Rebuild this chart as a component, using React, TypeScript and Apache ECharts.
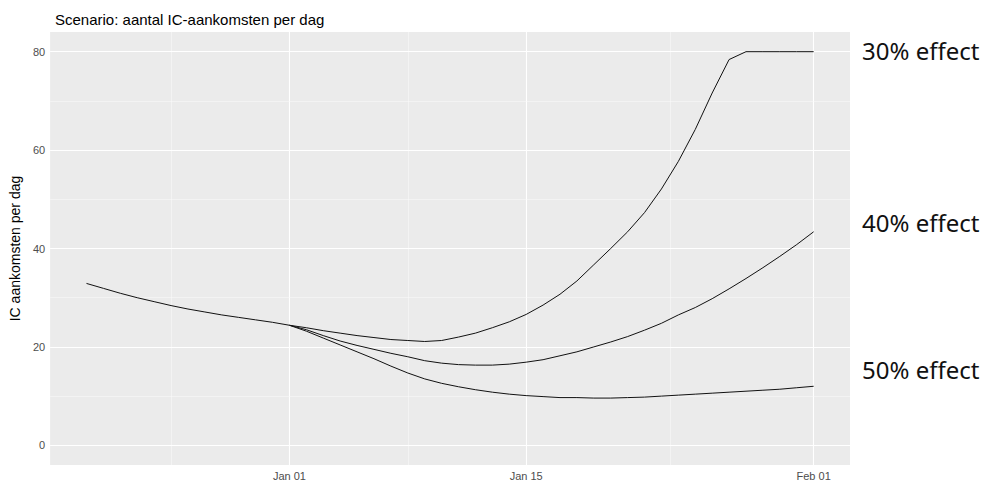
import React, { useEffect, useRef } from "react";
import * as echarts from "echarts";

const chartTitle = "Scenario: aantal IC-aankomsten per dag";
const yAxisName = "IC aankomsten per dag";

// days counted from Jan 01 (0)
const leadInStartDay = -12; // Dec 20
const leadIn = [32.9, 31.9, 30.9, 30.0, 29.2, 28.4, 27.7, 27.1, 26.5, 26.0, 25.5, 25.0, 24.4];
const scenarioStartDay = 0; // Jan 01 .. Feb 01
const effect30 = [24.4, 23.9, 23.3, 22.8, 22.3, 21.9, 21.5, 21.3, 21.1, 21.3, 22.0, 22.8, 23.9, 25.1, 26.6, 28.5, 30.7, 33.4, 36.7, 40.0, 43.4, 47.3, 52.1, 57.7, 64.2, 71.6, 78.4, 80, 80, 80, 80, 80];
const effect40 = [24.4, 23.5, 22.3, 21.2, 20.3, 19.5, 18.7, 18.0, 17.2, 16.7, 16.4, 16.3, 16.3, 16.5, 16.9, 17.4, 18.2, 19.0, 20.0, 21.0, 22.1, 23.4, 24.8, 26.5, 28.0, 29.8, 31.8, 33.9, 36.1, 38.4, 40.8, 43.4];
const effect50 = [24.4, 23.2, 21.8, 20.4, 19.0, 17.6, 16.1, 14.7, 13.5, 12.6, 11.9, 11.3, 10.8, 10.4, 10.1, 9.9, 9.7, 9.7, 9.6, 9.6, 9.7, 9.8, 10.0, 10.2, 10.4, 10.6, 10.8, 11.0, 11.2, 11.4, 11.7, 12.0];
const scenarioLabels = ["30% effect", "40% effect", "50% effect"];

const xTickDays = [0, 14, 31];
const xTickLabels = ["Jan 01", "Jan 15", "Feb 01"];
const xMinorDays = [-7, 7, 22.5];
const yTicks = [0, 20, 40, 60, 80];
const yMinorTicks = [10, 30, 50, 70];

const FONT = "'Liberation Sans', Arial, sans-serif";

function toPairs(start: number, values: number[]) {
  return values.map((v, i) => [start + i, v]);
}

export default function App() {
  const ref = useRef<HTMLDivElement>(null);
  useEffect(() => {
    document.body.style.margin = "0";
    if (!ref.current) return;
    const chart = echarts.init(ref.current, undefined, { renderer: "svg" });
    const major = { color: "#ffffff", width: 1.1, type: "solid" };
    const minor = { color: "#fafafa", width: 0.55, type: "solid" };
    const gridLines = [
      ...xTickDays.map((d) => ({ xAxis: d, lineStyle: major })),
      ...xMinorDays.map((d) => ({ xAxis: d, lineStyle: minor })),
      ...yTicks.map((v) => ({ yAxis: v, lineStyle: major })),
      ...yMinorTicks.map((v) => ({ yAxis: v, lineStyle: minor })),
    ];
    const lineStyle = { color: "#111111", width: 1 };
    const mkLine = (name: string, data: number[][], extra: any = {}) => ({
      name,
      type: "line",
      data,
      showSymbol: false,
      symbol: "none",
      lineStyle,
      silent: true,
      z: 3,
      ...extra,
    });
    const annY = [53, 225, 372];
    chart.setOption({
      animation: false,
      title: {
        text: chartTitle,
        left: 50,
        top: 7,
        textStyle: { fontFamily: FONT, fontSize: 15, fontWeight: "normal", color: "#000" },
      },
      grid: {
        left: 50,
        right: 137,
        top: 32,
        bottom: 20,
        show: true,
        backgroundColor: "#EBEBEB",
        borderWidth: 0,
      },
      xAxis: {
        type: "value",
        min: -14.15,
        max: 33.15,
        axisLine: { show: false },
        splitLine: { show: false },
        axisTick: { show: true, length: 3, lineStyle: { color: "#333333" }, customValues: xTickDays },
        axisLabel: {
          customValues: xTickDays,
          formatter: (v: number) => {
            const i = xTickDays.indexOf(v);
            return i >= 0 ? xTickLabels[i] : "";
          },
          color: "#4D4D4D",
          fontSize: 11,
          fontFamily: FONT,
          margin: 5,
        },
      },
      yAxis: {
        type: "value",
        min: -4,
        max: 84,
        name: yAxisName,
        nameLocation: "middle",
        nameRotate: 90,
        nameGap: 19,
        nameTextStyle: { fontFamily: FONT, fontSize: 14, color: "#000" },
        axisLine: { show: false },
        splitLine: { show: false },
        axisTick: { show: true, length: 3, lineStyle: { color: "#333333" }, customValues: yTicks },
        axisLabel: {
          customValues: yTicks,
          color: "#4D4D4D",
          fontSize: 11,
          fontFamily: FONT,
          margin: 5,
        },
      },
      series: [
        mkLine("lead-in", toPairs(leadInStartDay, leadIn), {
          markLine: {
            silent: true,
            z: 1,
            symbol: ["none", "none"],
            label: { show: false },
            emphasis: { disabled: true },
            animation: false,
            data: gridLines,
          },
        }),
        mkLine(scenarioLabels[0], toPairs(scenarioStartDay, effect30)),
        mkLine(scenarioLabels[1], toPairs(scenarioStartDay, effect40)),
        mkLine(scenarioLabels[2], toPairs(scenarioStartDay, effect50)),
      ],
      graphic: scenarioLabels.map((t, i) => ({
        type: "text",
        left: 862,
        top: annY[i] - 15,
        style: {
          text: t,
          fontFamily: "'Noto Sans', sans-serif",
          fontSize: 24,
          fill: "#111111",
        },
      })),
    });
    return () => chart.dispose();
  }, []);
  return <div ref={ref} style={{ width: 987, height: 485 }} />;
}
